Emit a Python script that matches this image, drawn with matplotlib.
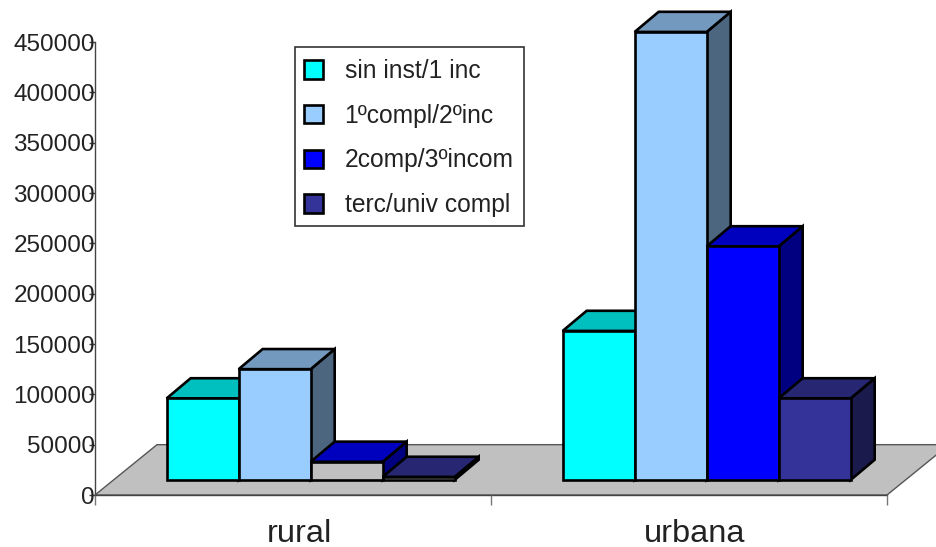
import matplotlib
matplotlib.use("Agg")
import matplotlib.pyplot as plt
from matplotlib.patches import Polygon, Patch, Rectangle

plt.rcParams['font.family'] = ['Liberation Sans', 'DejaVu Sans']

categories = ['rural', 'urbana']
series_names = ['sin inst/1 inc', '1ºcompl/2ºinc', '2comp/3ºincom', 'terc/univ compl']
sin_inst = [81000, 148000]
primaria = [110000, 445000]
secundaria = [18000, 232000]
terciaria = [3000, 81000]
series_values = [sin_inst, primaria, secundaria, terciaria]
y_ticks = [0, 50000, 100000, 150000, 200000, 250000, 300000, 350000, 400000, 450000]

front_colors = ['#00FFFF', '#99CCFF', '#0000FF', '#333399']
top_colors = ['#00BFBF', '#7399BF', '#0000BF', '#262673']
side_colors = ['#008080', '#4D6680', '#000080', '#1A1A4D']
face_override = {(0, 2): '#C0C0C0', (0, 3): '#EDEDED'}

W, H = 936, 547
fig = plt.figure(figsize=(W / 100, H / 100), dpi=100, facecolor='white')
ax = fig.add_axes([95 / W, 1 - 495 / H, 792 / W, 453 / H])
ax.set_xlim(0, 2)
ax.set_ylim(0, 450000)
ax.patch.set_visible(False)

BAR_W = 72 / 396
GROUP_OFFSET = 0.181
BASE = 15000
DX, DY = 24 / 396, 20000
FLOOR_DX, FLOOR_DY = 62 / 396, 50000

ax.add_patch(Polygon([(0, 0), (2, 0), (2 + FLOOR_DX, FLOOR_DY), (FLOOR_DX, FLOOR_DY)],
                     closed=True, facecolor='#C0C0C0', edgecolor='#555555', lw=1,
                     clip_on=False, zorder=1))

z = 2
for c in range(len(categories)):
    for s, values in enumerate(series_values):
        x0 = c + GROUP_OFFSET + s * BAR_W
        x1 = x0 + BAR_W
        y0 = BASE
        y1 = BASE + values[c]
        style = dict(closed=True, edgecolor='black', lw=1.9, joinstyle='miter',
                     clip_on=False, zorder=z)
        ax.add_patch(Polygon([(x1, y0), (x1 + DX, y0 + DY), (x1 + DX, y1 + DY), (x1, y1)],
                             facecolor=side_colors[s], **style))
        ax.add_patch(Polygon([(x0, y1), (x1, y1), (x1 + DX, y1 + DY), (x0 + DX, y1 + DY)],
                             facecolor=top_colors[s], **style))
        ax.add_patch(Polygon([(x0, y0), (x1, y0), (x1, y1), (x0, y1)],
                             facecolor=face_override.get((c, s), front_colors[s]), **style))
        z += 1

for side in ('top', 'right'):
    ax.spines[side].set_visible(False)
for side in ('left', 'bottom'):
    ax.spines[side].set_color('#444444')
    ax.spines[side].set_linewidth(1)
    ax.spines[side].set_zorder(1.5)

ax.set_yticks(y_ticks)
ax.set_yticklabels([str(v) for v in y_ticks])
ax.tick_params(axis='y', direction='out', length=4, width=1, color='#444444',
               pad=-4, labelsize=17.5, labelcolor='#222222')
ax.set_xticks([0, 1, 2])
ax.set_xticklabels(['', '', ''])
ax.tick_params(axis='x', direction='out', length=7, width=1, color='#777777')
ax.set_xticks([0.515, 1.515], minor=True)
ax.set_xticklabels(categories, minor=True)
ax.tick_params(axis='x', which='minor', length=0, pad=17, labelsize=23.4, labelcolor='#222222')

ax.add_patch(Rectangle((295 / W, 1 - 226 / H), 229 / W, 179 / H, transform=fig.transFigure,
                       facecolor='white', edgecolor='#333333', lw=1.2, clip_on=False, zorder=49))
handles = [Patch(facecolor=f, edgecolor='black', lw=1.9) for f in front_colors]
leg = ax.legend(handles, series_names, loc='upper left',
                bbox_to_anchor=(304 / W, 1 - 59 / H), bbox_transform=fig.transFigure,
                borderaxespad=0, fontsize=17.7, frameon=False,
                handlelength=0.77, handleheight=0.77,
                handletextpad=0.88, labelspacing=0.84, borderpad=0, labelcolor='#222222')
leg.set_zorder(50)

fig.savefig('out.png', dpi=100, facecolor='white')
